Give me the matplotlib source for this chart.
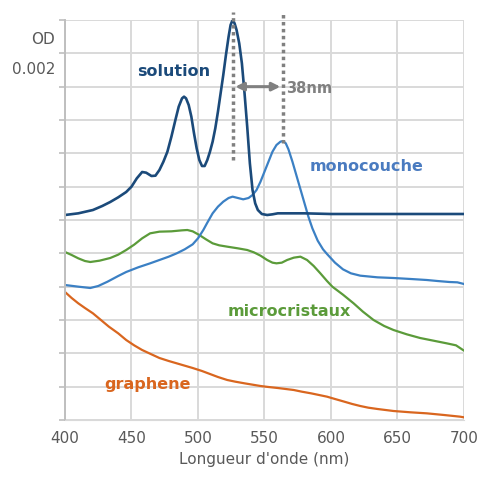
import matplotlib
matplotlib.use("Agg")
import matplotlib.pyplot as plt

# Data (y in grid units; one grid step = constant OD increment)
sol_wl = [400, 410, 421, 428, 434, 440, 446, 450, 454, 458, 461, 465, 468, 471, 474, 477, 480, 483, 485.5, 488,
          489.5, 491, 493, 495, 497, 499, 501, 503, 505, 507, 509, 511, 513, 515, 517, 519, 521, 523, 524.5, 526,
          527.5, 529, 531, 533, 535, 537, 539, 541, 543, 545, 548, 552, 556, 560, 580, 600, 650, 700]
sol_od = [6.15, 6.2, 6.3, 6.42, 6.54, 6.68, 6.84, 7.0, 7.25, 7.44, 7.42, 7.32, 7.33, 7.5, 7.75, 8.05, 8.5, 9.0, 9.4, 9.65,
          9.7, 9.65, 9.45, 9.1, 8.6, 8.15, 7.8, 7.62, 7.62, 7.8, 8.05, 8.35, 8.75, 9.25, 9.8, 10.35, 10.95, 11.5, 11.85, 12.0,
          11.9, 11.7, 11.3, 10.7, 9.8, 8.8, 7.7, 6.9, 6.5, 6.3, 6.18, 6.15, 6.17, 6.2, 6.2, 6.18, 6.18, 6.18]

mono_wl = [400, 410, 419, 425, 432, 440, 446, 455, 464, 471, 478, 484, 490, 496, 500, 504, 507, 511, 515, 519,
           523, 526, 530, 534, 538, 541, 544, 547, 550, 553, 556, 559, 562, 564, 566, 568, 571, 575, 579, 583,
           586, 590, 594, 597, 603, 609, 615, 622, 635, 647, 660, 672, 680, 689, 695, 700]
mono_od = [4.05, 4.0, 3.96, 4.02, 4.15, 4.32, 4.44, 4.58, 4.7, 4.8, 4.9, 5.0, 5.12, 5.27, 5.45, 5.7, 5.92, 6.2, 6.4, 6.55,
           6.66, 6.7, 6.66, 6.62, 6.66, 6.75, 6.9, 7.15, 7.45, 7.75, 8.05, 8.25, 8.35, 8.37, 8.3, 8.12, 7.75, 7.2, 6.65, 6.1,
           5.75, 5.38, 5.12, 4.98, 4.72, 4.52, 4.4, 4.33, 4.28, 4.26, 4.23, 4.2, 4.17, 4.14, 4.13, 4.08]

micro_wl = [400, 405, 410, 415, 419, 426, 434, 440, 446, 452, 458, 464, 471, 480, 488, 492, 496, 501, 506, 511,
            516, 522, 530, 537, 542, 547, 552, 556, 559, 563, 567, 572, 577, 582, 587, 592, 597, 601, 609, 617,
            624, 632, 640, 647, 657, 667, 677, 687, 694, 700]
micro_od = [5.04, 4.95, 4.85, 4.77, 4.74, 4.78, 4.86, 4.96, 5.1, 5.26, 5.45, 5.6, 5.65, 5.66, 5.69, 5.7, 5.66, 5.55, 5.42, 5.3,
            5.24, 5.2, 5.15, 5.1, 5.03, 4.93, 4.8, 4.72, 4.7, 4.72, 4.8, 4.87, 4.9, 4.8, 4.62, 4.4, 4.17, 4.0, 3.76, 3.5,
            3.25, 3.0, 2.82, 2.7, 2.57, 2.46, 2.38, 2.3, 2.24, 2.08]

graph_wl = [400, 405, 410, 415, 421, 427, 433, 440, 446, 452, 458, 465, 471, 478, 484, 490, 496, 503, 509, 515,
            522, 528, 535, 541, 547, 553, 560, 566, 572, 578, 585, 591, 597, 603, 610, 616, 622, 628, 635, 641,
            647, 660, 672, 685, 697, 700]
graph_od = [3.84, 3.66, 3.5, 3.36, 3.2, 3.0, 2.8, 2.6, 2.4, 2.24, 2.1, 1.97, 1.86, 1.77, 1.7, 1.63, 1.56, 1.47, 1.38, 1.29,
            1.2, 1.15, 1.1, 1.06, 1.02, 0.99, 0.96, 0.93, 0.9, 0.85, 0.8, 0.75, 0.7, 0.63, 0.55, 0.48, 0.42, 0.37, 0.33, 0.3,
            0.27, 0.23, 0.2, 0.15, 0.1, 0.08]

x_ticks = [400, 450, 500, 550, 600, 650, 700]
peak_sol = 526
peak_mono = 564

C_SOL = "#1b4a7a"
C_MONO = "#3b80c4"
C_MICRO = "#5b9b3a"
C_GRAPH = "#d9661f"
C_TXT = "#595959"
C_GRAY = "#808080"

fig = plt.figure(figsize=(4.84, 4.78), dpi=100)
ax = fig.add_axes([65/484, 1-420/478, 399/484, 400/478])
ax.set_xlim(400, 700)
ax.set_ylim(0, 12)
ax.set_xticks(x_ticks)
ax.set_yticks(range(0, 13))
ax.set_yticklabels([])
ax.grid(True, color="#d9d9d9", linewidth=1.4)
ax.set_axisbelow(True)
for s in ["top", "right"]:
    ax.spines[s].set_visible(False)
ax.spines["left"].set_color("#bfbfbf")
ax.spines["bottom"].set_color("#d9d9d9")
ax.spines["left"].set_linewidth(1.4)
ax.tick_params(axis="x", length=0, pad=8, labelsize=11, labelcolor=C_TXT)
ax.tick_params(axis="y", length=4, color="#bfbfbf", width=1.2)
ax.set_xlabel("Longueur d'onde (nm)", fontsize=11, color=C_TXT, labelpad=4)

kw = dict(solid_joinstyle="round", solid_capstyle="round")
ax.plot(graph_wl, graph_od, color=C_GRAPH, lw=1.6, **kw)
ax.plot(micro_wl, micro_od, color=C_MICRO, lw=1.6, **kw)
ax.plot(mono_wl, mono_od, color=C_MONO, lw=1.6, **kw)
ax.plot(sol_wl, sol_od, color=C_SOL, lw=1.9, **kw)

# dotted markers for peaks
ax.plot([peak_sol, peak_sol], [7.8, 12.25], color=C_GRAY, lw=2.5, ls=(0, (1, 1)), clip_on=False)
ax.plot([peak_mono, peak_mono], [8.3, 12.25], color=C_GRAY, lw=2.5, ls=(0, (1, 1)), clip_on=False)
ax.annotate("", xy=(peak_mono, 10.0), xytext=(peak_sol, 10.0),
            arrowprops=dict(arrowstyle="<|-|>", color=C_GRAY, lw=2.2, mutation_scale=12))
ax.text(peak_mono + 2.5, 9.95, f"{peak_mono - peak_sol}nm", color=C_GRAY, fontsize=10.5,
        fontweight="bold", va="center", ha="left")

ax.text(482, 10.45, "solution", color=C_SOL, fontsize=11.5, fontweight="bold", ha="center", va="center")
ax.text(627, 7.6, "monocouche", color="#4a7bc0", fontsize=11.5, fontweight="bold", ha="center", va="center")
ax.text(569, 3.24, "microcristaux", color=C_MICRO, fontsize=11.5, fontweight="bold", ha="center", va="center")
ax.text(462, 1.05, "graphene", color=C_GRAPH, fontsize=11.5, fontweight="bold", ha="center", va="center")

fig.text(55/484, 1-40/478, "OD", fontsize=11, color=C_TXT, ha="right", va="center")
fig.text(55/484, 1-70/478, "0.002", fontsize=11, color=C_TXT, ha="right", va="center")

fig.savefig("out.png", dpi=100)
